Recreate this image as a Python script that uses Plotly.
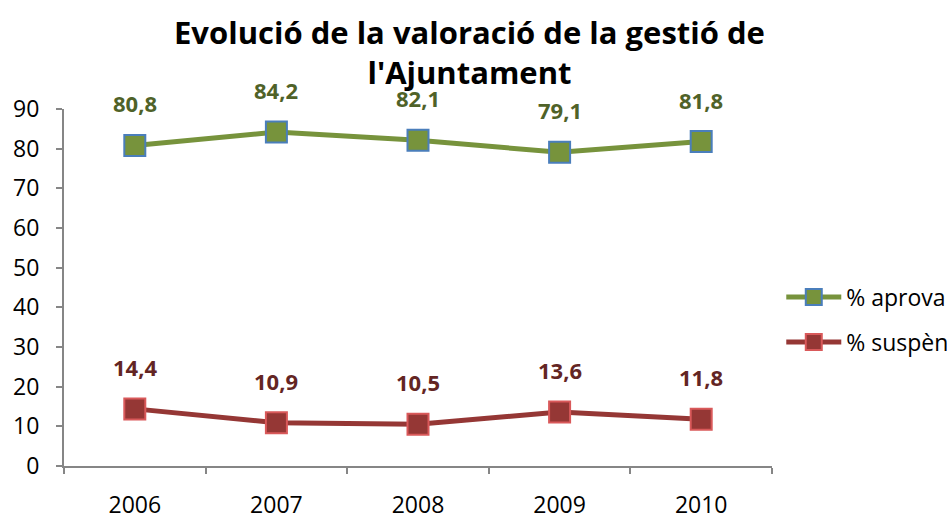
import plotly.graph_objects as go

years = ["2006", "2007", "2008", "2009", "2010"]
aprova = [80.8, 84.2, 82.1, 79.1, 81.8]
suspen = [14.4, 10.9, 10.5, 13.6, 11.8]
y_ticks = [0, 10, 20, 30, 40, 50, 60, 70, 80, 90]

FONT = "Open Sans"
xpos = list(range(len(years)))
boundaries = [i - 0.5 for i in range(len(years) + 1)]

fig = go.Figure()
fig.add_trace(go.Scatter(
    x=xpos, y=aprova, name="% aprova", mode="lines+markers", legend="legend",
    line=dict(color="#77933C", width=5),
    marker=dict(symbol="square", size=21, color="#77933C", line=dict(color="#4A7EBB", width=2)),
))
fig.add_trace(go.Scatter(
    x=xpos, y=suspen, name="% suspèn", mode="lines+markers", legend="legend2",
    line=dict(color="#953735", width=5),
    marker=dict(symbol="square", size=21, color="#953735", line=dict(color="#D9595A", width=2)),
))

def fmt(v):
    return f"{v:.1f}".replace(".", ",")

annotations = []
for x, v in zip(xpos, aprova):
    annotations.append(dict(x=x, y=v, text=fmt(v), showarrow=False, yshift=42,
                            font=dict(family=FONT, size=22, color="#4F6228", weight="bold")))
for x, v in zip(xpos, suspen):
    annotations.append(dict(x=x, y=v, text=fmt(v), showarrow=False, yshift=42,
                            font=dict(family=FONT, size=22, color="#632523", weight="bold")))
annotations.append(dict(
    text="<b>Evolució de la valoració de la gestió de<br>l'Ajuntament</b>",
    xref="paper", yref="paper", x=0.573, y=1, xanchor="center", yanchor="bottom",
    yshift=14, showarrow=False, font=dict(family=FONT, size=31, color="black"),
))

legend_common = dict(xref="container", yref="container", x=0.825, xanchor="left",
                     yanchor="middle", font=dict(family=FONT, size=23, color="black"),
                     itemwidth=55, bgcolor="rgba(0,0,0,0)")

fig.update_layout(
    width=947, height=521,
    paper_bgcolor="white", plot_bgcolor="white",
    margin=dict(l=64, r=175, t=109, b=55),
    font=dict(family=FONT, size=23, color="black"),
    showlegend=True,
    legend=dict(y=1 - 297 / 521, **legend_common),
    legend2=dict(y=1 - 342 / 521, **legend_common),
    annotations=annotations,
)
fig.update_xaxes(
    range=[-0.5, len(years) - 0.5], tickvals=xpos, ticktext=years, automargin=False,
    showline=True, linecolor="#868686", linewidth=2,
    ticks="", showgrid=False, zeroline=False, ticklabelstandoff=17,
    minor=dict(tickvals=boundaries, ticks="outside", ticklen=6, tickcolor="#868686",
               tickwidth=2, showgrid=False),
    tickfont=dict(family=FONT, size=23, color="black"),
)
fig.update_yaxes(
    range=[0, 90], tickvals=y_ticks, automargin=False,
    showline=True, linecolor="#868686", linewidth=2,
    ticks="outside", ticklen=6, tickcolor="#868686", tickwidth=2,
    showgrid=False, zeroline=False, ticklabelstandoff=12,
    tickfont=dict(family=FONT, size=23, color="black"),
)

fig.write_html("out.html", config={"displayModeBar": False},
               post_script="document.body.style.margin='0';")
